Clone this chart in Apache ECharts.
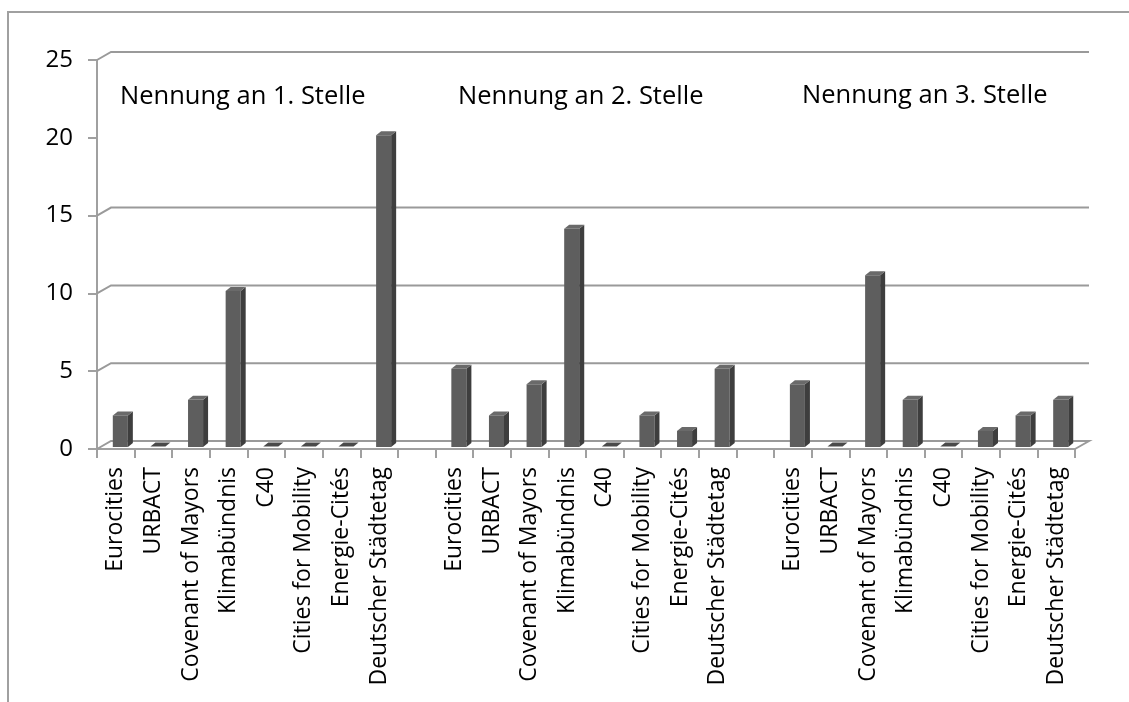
<!DOCTYPE html>
<html>
<head>
<meta charset="utf-8">
<script src="https://cdn.jsdelivr.net/npm/echarts@6/dist/echarts.min.js"></script>
<style>
  html, body { margin: 0; padding: 0; background: #fff; }
  #chart { width: 1129px; height: 702px; }
</style>
</head>
<body>
<div id="chart"></div>
<script>
// Networks named by the surveyed cities
const networks = ['Eurocities', 'URBACT', 'Covenant of Mayors', 'Klimabündnis', 'C40',
  'Cities for Mobility', 'Energie-Cités', 'Deutscher Städtetag'];

// How often each network was named in first, second and third place
const rank1 = [2, 0, 3, 10, 0, 0, 0, 20];
const rank2 = [5, 2, 4, 14, 0, 2, 1, 5];
const rank3 = [4, 0, 11, 3, 0, 1, 2, 3];

const groupTitles = ['Nennung an 1. Stelle', 'Nennung an 2. Stelle', 'Nennung an 3. Stelle'];

// Value axis ticks and the wall lines drawn behind the bars
const yTicks = { min: 0, max: 25, interval: 5 };
const wallLines = [0, 5, 10, 15, 25];

// Build the category list: three blocks of networks separated by an empty slot
const groups = [rank1, rank2, rank3];
const xCats = [];
const barData = [];
groups.forEach((vals, g) => {
  if (g > 0) xCats.push('');
  networks.forEach((name, i) => {
    barData.push([xCats.length, vals[i]]);
    xCats.push(name);
  });
});

// Depth offset of the pseudo-3D back wall and of the boxes
const WALL_DX = 14, WALL_DY = 8;
const BOX_DX = 5, BOX_DY = 4;

const FONT = '"Open Sans", "Noto Sans", sans-serif';
const LINE = '#a0a0a0';

const chart = echarts.init(document.getElementById('chart'), null, { renderer: 'canvas' });

chart.setOption({
  animation: false,
  backgroundColor: '#ffffff',
  grid: { left: 97, right: 54, top: 60, bottom: 253, containLabel: false },
  xAxis: {
    type: 'category',
    data: xCats,
    axisLine: { show: true, lineStyle: { color: LINE, width: 2 } },
    axisTick: { show: true, length: 9, lineStyle: { color: LINE, width: 2 } },
    axisLabel: {
      rotate: 90, interval: 0, margin: 18,
      color: '#000', fontFamily: FONT, fontSize: 23
    },
    splitLine: { show: false }
  },
  yAxis: {
    type: 'value',
    min: yTicks.min, max: yTicks.max, interval: yTicks.interval,
    axisLine: { show: true, lineStyle: { color: LINE, width: 2 } },
    axisTick: { show: true, length: 9, lineStyle: { color: LINE, width: 2 } },
    axisLabel: { color: '#000', fontFamily: FONT, fontSize: 24, margin: 24 },
    splitLine: { show: false }
  },
  series: [
    {
      // side wall diagonals, back-wall grid lines and the floor outline
      type: 'custom',
      clip: false,
      silent: true,
      z: 1,
      data: wallLines.map(v => [0, v]),
      encode: { x: 0, y: 1 },
      renderItem: function (params, api) {
        const cs = params.coordSys;
        const v = api.value(1);
        const y = api.coord([0, v])[1];
        const x0 = cs.x, x1 = cs.x + cs.width;
        const pts = [[x0, y], [x0 + WALL_DX, y - WALL_DY], [x1 + WALL_DX, y - WALL_DY]];
        if (v === 0) pts.push([x1, y]);
        return {
          type: 'polyline',
          shape: { points: pts },
          style: { stroke: '#9a9a9a', lineWidth: 2, fill: null }
        };
      }
    },
    {
      // shaded boxes for each count
      type: 'custom',
      clip: false,
      z: 3,
      data: barData,
      encode: { x: 0, y: 1 },
      renderItem: function (params, api) {
        const cat = api.value(0), v = api.value(1);
        const top = api.coord([cat, v]);
        const base = api.coord([cat, 0]);
        const band = api.size([1, 0])[0];
        const xl = top[0] - band * 0.08;
        const xr = xl + band * 0.4;
        const yt = top[1] - 2.5;
        const yb = base[1] - 2;
        const children = [];
        if (yb - yt > 0.5) {
          children.push({
            type: 'polygon',
            shape: { points: [[xl, yt], [xr, yt], [xr, yb], [xl, yb]] },
            style: { fill: '#5e5e5e' }
          });
          children.push({
            type: 'polygon',
            shape: { points: [[xr, yt], [xr + BOX_DX, yt - BOX_DY], [xr + BOX_DX, yb - BOX_DY], [xr, yb]] },
            style: { fill: '#3e3e3e' }
          });
        }
        children.push({
          type: 'polygon',
          shape: { points: [[xl, yt], [xr, yt], [xr + BOX_DX, yt - BOX_DY], [xl + BOX_DX, yt - BOX_DY]] },
          style: { fill: v === 0 ? '#4a4a4a' : '#6a6a6a' }
        });
        return { type: 'group', children: children };
      }
    }
  ],
  graphic: [
    {
      type: 'polyline', silent: true, z: 0,
      shape: { points: [[8, 702], [8, 12], [1129, 12]] },
      style: { stroke: LINE, lineWidth: 2, fill: null }
    },
    { type: 'text', left: 120, top: 84, style: { text: groupTitles[0], font: '25.5px ' + FONT, fill: '#000' } },
    { type: 'text', left: 458, top: 84, style: { text: groupTitles[1], font: '25.5px ' + FONT, fill: '#000' } },
    { type: 'text', left: 802, top: 83, style: { text: groupTitles[2], font: '25.5px ' + FONT, fill: '#000' } }
  ]
});
</script>
</body>
</html>
